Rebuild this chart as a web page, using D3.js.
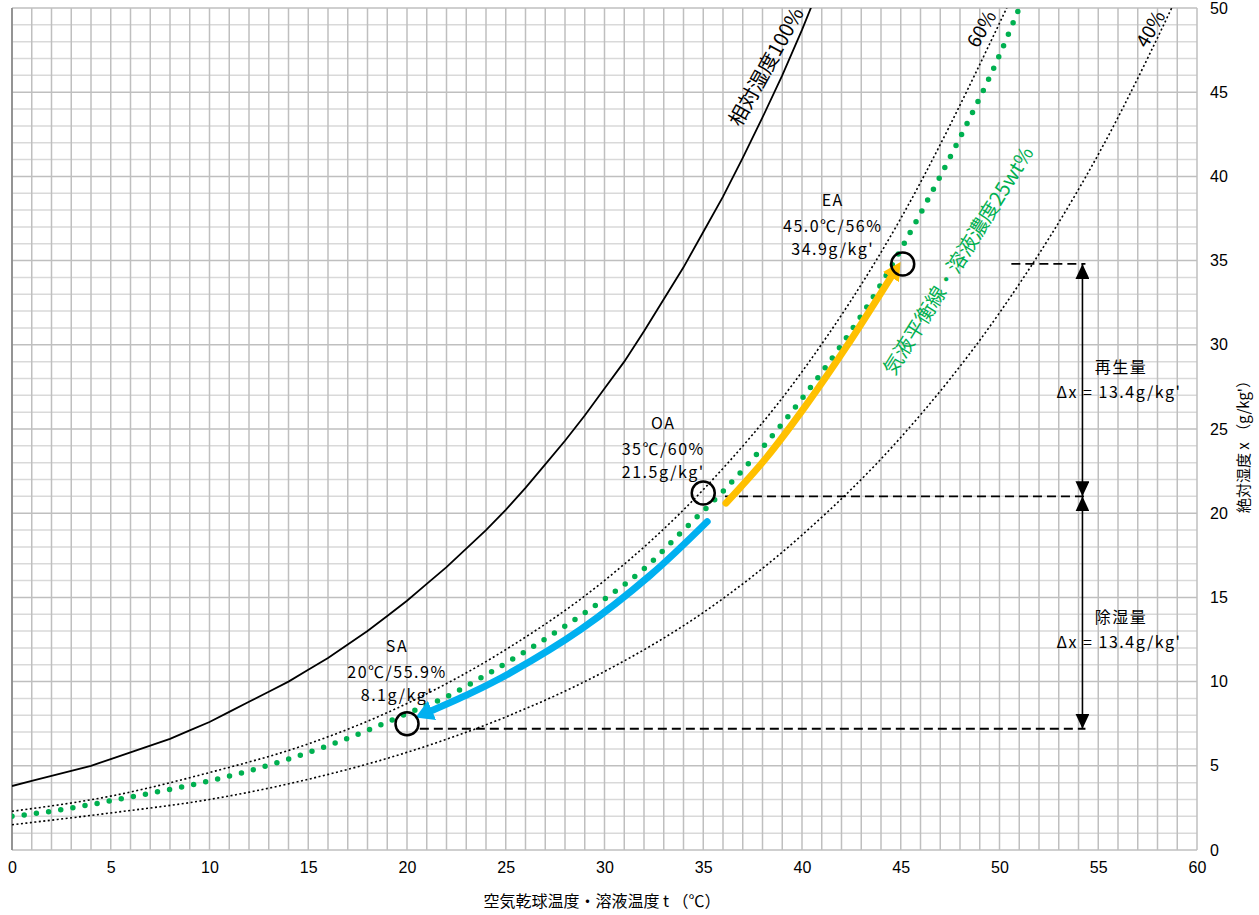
<!DOCTYPE html>
<meta charset="utf-8">
<style>
body { margin: 0; background: #fff; }
svg { display: block; }
text { font-family: "Noto Sans CJK JP", sans-serif; fill: #000; }
.tick text { font-family: "Liberation Sans Narrow", "Liberation Sans", sans-serif; font-size: 16px; }
.lbl { font-size: 16px; letter-spacing: 1.5px; text-anchor: middle; }
</style>
<svg width="1259" height="915"></svg>
<script src="https://d3js.org/d3.v7.min.js"></script>
<script>

// saturation curve (relative humidity 100%)
var satT = [0,1,2,3,4,5,6,7,8,9,10,11,12,13,14,15,16,17,18,19,20,21,22,23,24,25,26,27,28,29,30,31,32,33,34,35,36,37,38,39,40,41];
var satX = [3.8,4.1,4.4,4.7,5.0,5.4,5.8,6.2,6.6,7.1,7.6,8.2,8.8,9.4,10.0,10.7,11.4,12.2,13.0,13.9,14.8,15.8,16.8,17.9,19.0,20.2,21.5,22.9,24.3,25.8,27.4,29.0,30.8,32.7,34.6,36.7,38.8,41.1,43.5,46.0,48.7,51.6];

// relative humidity 60% and 40%
var rh60T = [0,5,10,15,20,25,30,35,40,45,50,51];
var rh60X = [2.3,3.2,4.6,6.3,8.7,11.9,16.0,21.4,28.4,37.5,49.1,51.6];
var rh40T = [0,5,10,15,20,25,30,35,40,45,50,55,60];
var rh40X = [1.5,2.2,3.0,4.2,5.8,7.9,10.6,14.1,18.7,24.5,31.9,41.3,53.2];

// equilibrium line, solution 25wt%
var eqT = [0,2,4,6,8,10,12,14,16,18,20,22,24,26,28,30,32,34,36,38,40,42,44,46,48,50,51,52];
var eqX = [2.0,2.3,2.7,3.15,3.6,4.1,4.7,5.4,6.2,7.1,8.1,9.1,10.4,11.8,13.3,14.9,16.7,19.0,21.3,23.9,26.8,30.0,33.6,37.8,42.3,47.2,50.0,52.8];

// process arrows
var dehumT = [35.2,32.3,28.8,25.2,23.2,21.1];
var dehumX = [19.5,16.3,13.1,10.5,9.3,8.2];
var regenT = [36.15,38.2,40.2,42.2,44.6];
var regenX = [20.6,23.3,26.4,29.8,34.2];

// air states
var stateNames = ["SA", "OA", "EA"];
var stateT = [20.0, 35.0, 45.1];
var stateX = [7.5, 21.2, 34.8];
var stateCond = ["20℃/55.9%", "35℃/60%", "45.0℃/56%"];
var stateAbs = ["8.1g/kg'", "21.5g/kg'", "34.9g/kg'"];

// reference levels (dashed) and their start temperatures
var levelX = [7.2, 21.0, 34.8];
var levelT0 = [20.65, 36.1, 50.6];
var arrowT = 54.2;
var amountNames = ["除湿量", "再生量"];
var amountText = ["Δx = 13.4g/kg'", "Δx = 13.4g/kg'"];

var xTicks = [0,5,10,15,20,25,30,35,40,45,50,55,60];
var yTicks = [0,5,10,15,20,25,30,35,40,45,50];

var svg = d3.select("svg");
var x = d3.scaleLinear().domain([0, 60]).range([12, 1197]),
    y = d3.scaleLinear().domain([0, 50]).range([850, 8]);

var defs = svg.append("defs");
defs.append("clipPath").attr("id", "plot")
  .append("rect").attr("x", 12).attr("y", 8).attr("width", 1185).attr("height", 842);

function marker(id, color, w, h, refX) {
  defs.append("marker").attr("id", id)
    .attr("viewBox", "0 0 10 10").attr("preserveAspectRatio", "none")
    .attr("refX", refX).attr("refY", 5)
    .attr("markerWidth", w).attr("markerHeight", h)
    .attr("markerUnits", "userSpaceOnUse")
    .attr("orient", "auto-start-reverse")
    .append("path").attr("d", "M0,0L10,5L0,10z").attr("fill", color);
}
marker("blueHead", "#00b0f0", 18, 21, 2);
marker("orangeHead", "#ffc000", 18, 19, 2);
marker("blackHead", "#000", 15, 14, 10);

// grid
var grid = svg.append("g");
grid.selectAll(".hx").data(y.ticks(50)).enter().append("line")
  .attr("x1", 12).attr("x2", 1197)
  .attr("y1", function(d) { return y(d); }).attr("y2", function(d) { return y(d); })
  .attr("stroke", function(d) { return d % 5 === 0 ? "#bfbfbf" : "#d9d9d9"; })
  .attr("stroke-width", 1.5);
grid.selectAll(".vx").data(x.ticks(60)).enter().append("line")
  .attr("y1", 8).attr("y2", 850)
  .attr("x1", function(d) { return x(d); }).attr("x2", function(d) { return x(d); })
  .attr("stroke", "#bfbfbf").attr("stroke-width", 1.5);
svg.append("line").attr("x1", 12).attr("x2", 12).attr("y1", 8).attr("y2", 850)
  .attr("stroke", "#808080").attr("stroke-width", 1.5);

// axes
svg.append("g").attr("transform", "translate(0,850)")
  .call(d3.axisBottom(x).tickValues(xTicks).tickSize(0).tickPadding(12))
  .call(function(g) { g.select(".domain").remove(); });
svg.append("g").attr("transform", "translate(1197,0)")
  .call(d3.axisRight(y).tickValues(yTicks).tickSize(0).tickPadding(13))
  .call(function(g) { g.select(".domain").remove(); });

svg.append("text").attr("x", 602).attr("y", 907).attr("text-anchor", "middle")
  .style("font-size", "16px").text("空気乾球温度・溶液温度 t （℃）");
svg.append("text").attr("transform", "translate(1249,443) rotate(-90)")
  .attr("text-anchor", "middle").style("font-size", "15px").text("絶対湿度 x （g/kg'）");

function pts(ts, xs) { return ts.map(function(t, i) { return [t, xs[i]]; }); }
var line = d3.line().x(function(d) { return x(d[0]); }).y(function(d) { return y(d[1]); });
var smooth = d3.line().x(function(d) { return x(d[0]); }).y(function(d) { return y(d[1]); })
  .curve(d3.curveMonotoneX);
var bend = d3.line().x(function(d) { return x(d[0]); }).y(function(d) { return y(d[1]); })
  .curve(d3.curveCatmullRom);

var curves = svg.append("g").attr("clip-path", "url(#plot)");
curves.append("path").attr("d", line(pts(satT, satX)))
  .attr("fill", "none").attr("stroke", "#000").attr("stroke-width", 1.8);
curves.append("path").attr("d", smooth(pts(rh60T, rh60X)))
  .attr("fill", "none").attr("stroke", "#000").attr("stroke-width", 1.6).attr("stroke-dasharray", "2 2.5");
curves.append("path").attr("d", smooth(pts(rh40T, rh40X)))
  .attr("fill", "none").attr("stroke", "#000").attr("stroke-width", 1.6).attr("stroke-dasharray", "2 2.5");
curves.append("path").attr("d", smooth(pts(eqT, eqX)))
  .attr("fill", "none").attr("stroke", "#00b050").attr("stroke-width", 5.5)
  .attr("stroke-linecap", "round").attr("stroke-dasharray", "0 12.3");

// dashed levels and amount arrows
levelX.forEach(function(v, i) {
  svg.append("line").attr("x1", x(levelT0[i])).attr("x2", x(arrowT) + 3)
    .attr("y1", y(v)).attr("y2", y(v))
    .attr("stroke", "#000").attr("stroke-width", 1.8).attr("stroke-dasharray", "9 5");
});
[[levelX[0], levelX[1]], [levelX[1], levelX[2]]].forEach(function(p) {
  svg.append("line").attr("x1", x(arrowT)).attr("x2", x(arrowT))
    .attr("y1", y(p[0])).attr("y2", y(p[1]))
    .attr("stroke", "#000").attr("stroke-width", 1.6)
    .attr("marker-start", "url(#blackHead)").attr("marker-end", "url(#blackHead)");
});

// process arrows
svg.append("path").attr("d", bend(pts(dehumT, dehumX)))
  .attr("fill", "none").attr("stroke", "#00b0f0").attr("stroke-width", 7)
  .attr("stroke-linecap", "round").attr("marker-end", "url(#blueHead)");
svg.append("path").attr("d", bend(pts(regenT, regenX)))
  .attr("fill", "none").attr("stroke", "#ffc000").attr("stroke-width", 7)
  .attr("stroke-linecap", "round").attr("marker-end", "url(#orangeHead)");

// state circles and labels
var labelDx = [-10, -40, -70];
var labelDy = [-72, -64, -58];
stateNames.forEach(function(n, i) {
  var cx = x(stateT[i]), cy = y(stateX[i]);
  svg.append("circle").attr("cx", cx).attr("cy", cy).attr("r", 11.5)
    .attr("fill", "none").attr("stroke", "#000").attr("stroke-width", 2.5);
  var lx = cx + labelDx[i], ly = cy + labelDy[i];
  svg.append("text").attr("class", "lbl").attr("x", lx).attr("y", ly).text(n);
  svg.append("text").attr("class", "lbl").attr("x", lx).attr("y", ly + 26).text(stateCond[i]);
  svg.append("text").attr("class", "lbl").attr("x", lx).attr("y", ly + 49).text(stateAbs[i]);
});

// amount labels
var amountY = [13.5, 28.3];
amountNames.forEach(function(n, i) {
  svg.append("text").attr("class", "lbl").attr("x", 1121).attr("y", y(amountY[i])).text(n);
  svg.append("text").attr("class", "lbl").attr("x", 1119).attr("y", y(amountY[i]) + 25).text(amountText[i]);
});

// curve labels
function rotLabel(tx, ty, ang, size, color, txt) {
  svg.append("text").attr("transform", "translate(" + tx + "," + ty + ") rotate(" + ang + ")")
    .attr("text-anchor", "middle").attr("dominant-baseline", "central")
    .style("font-size", size + "px").style("fill", color).text(txt);
}
rotLabel(765, 66, -61, 20, "#000", "相対湿度100%");
rotLabel(980, 28, -60, 19, "#000", "60%");
rotLabel(1149, 28, -60, 19, "#000", "40%");
rotLabel(957, 260, -58, 20, "#00b050", "気液平衡線・溶液濃度25wt%");

</script>
